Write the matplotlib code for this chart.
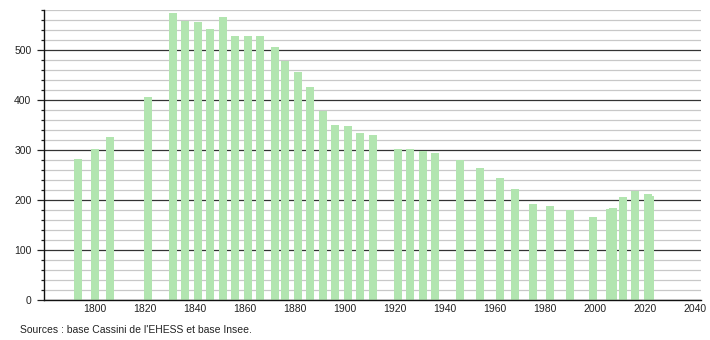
import matplotlib
matplotlib.use("Agg")
import matplotlib.pyplot as plt
from matplotlib.ticker import MultipleLocator

years = [1793, 1800, 1806, 1821, 1831, 1836, 1841, 1846, 1851, 1856, 1861, 1866,
         1872, 1876, 1881, 1886, 1891, 1896, 1901, 1906, 1911, 1921, 1926, 1931,
         1936, 1946, 1954, 1962, 1968, 1975, 1982, 1990, 1999, 2006, 2007, 2011,
         2016, 2021, 2022]
population = [282, 302, 326, 406, 574, 559, 556, 542, 566, 529, 529, 529,
              506, 479, 457, 426, 379, 350, 348, 334, 330, 302, 302, 298,
              294, 280, 264, 244, 222, 192, 188, 180, 167, 183, 185, 206,
              218, 212, 209]
x_ticks = [1800, 1820, 1840, 1860, 1880, 1900, 1920, 1940, 1960, 1980, 2000, 2020, 2040]
y_ticks = [0, 100, 200, 300, 400, 500]
source = "Sources : base Cassini de l'EHESS et base Insee."

plt.rcParams['font.family'] = ['Liberation Sans', 'DejaVu Sans']

fig = plt.figure(figsize=(7.1, 3.4), dpi=100)
ax = fig.add_axes([44/710, 40/340, (701-44)/710, 290/340])

ax.set_xlim(1779.6, 2042.4)
ax.set_ylim(0, 580)

# grid
ax.yaxis.set_major_locator(MultipleLocator(100))
ax.yaxis.set_minor_locator(MultipleLocator(20))
ax.grid(which='minor', axis='y', color='#c8c8c8', linewidth=0.9, zorder=0)
ax.grid(which='major', axis='y', color='#333333', linewidth=0.9, zorder=0)
ax.set_axisbelow(True)

ax.bar(years, population, width=3.2, color='#b2e5b0', zorder=2, linewidth=0)

ax.set_xticks(x_ticks)
ax.set_xticklabels([str(t) for t in x_ticks])
ax.set_yticks(y_ticks)
ax.set_yticklabels([str(t) for t in y_ticks])

ax.tick_params(axis='x', length=0, pad=3, labelsize=7.5, colors='#222222')
ax.tick_params(axis='y', which='major', length=5, width=0.9, pad=4, labelsize=7.5, colors='#222222')
ax.tick_params(axis='y', which='minor', length=2.5, width=0.9, colors='#222222')

for s in ['top', 'right']:
    ax.spines[s].set_visible(False)
for s in ['left', 'bottom']:
    ax.spines[s].set_color('#111111')
    ax.spines[s].set_linewidth(1.0)

fig.text(20/710, 1 - 330/340, source, fontsize=7.5, color='#222222', va='center', ha='left')

fig.savefig('out.png', dpi=100)
